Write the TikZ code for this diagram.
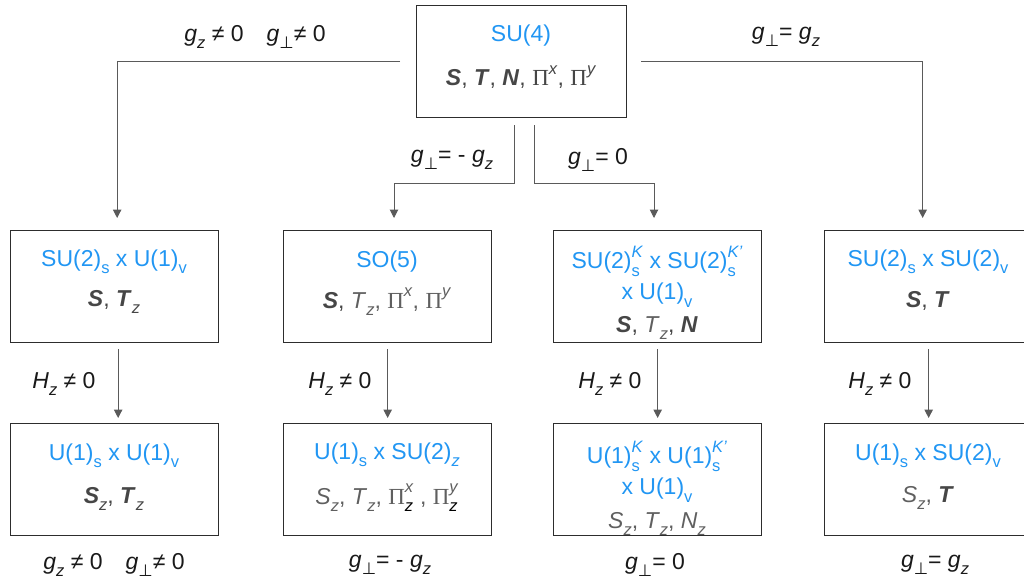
\documentclass[tikz,border=0pt]{standalone}
\usepackage{fontspec}
\setmainfont{Liberation Sans}
\newfontfamily\pifont{Liberation Serif}
\newfontfamily\symfont{DejaVu Sans}
\usetikzlibrary{arrows.meta}

\definecolor{grpblue}{RGB}{33,150,243}
\definecolor{opgray}{RGB}{70,70,70}
\definecolor{oplight}{RGB}{95,95,95}
\definecolor{linegray}{RGB}{90,90,90}
\definecolor{framegray}{RGB}{45,45,45}

% small lowered / raised indices in text
\newcommand\idxfont{\fontsize{16.5}{16.5}\selectfont}
\newcommand\lo[1]{\raisebox{-0.32em}{\idxfont #1}}
\newcommand\hi[1]{\raisebox{0.5em}{\idxfont #1}}
\newdimen\sswd
\newcommand\subsup[2]{%
  \setbox0\hbox{\idxfont #1}\setbox2\hbox{\idxfont #2}%
  \ifdim\wd0>\wd2 \sswd=\wd0 \else \sswd=\wd2 \fi
  \makebox[\sswd][l]{\rlap{\raisebox{0.5em}{\box0}}\raisebox{-0.32em}{\box2}}}
\newcommand\bop[1]{\textbf{\textit{#1}}}
\newcommand\Pop{{\pifont Π}}
\newcommand\gz{\textit{g}\lo{\textit{z}}}
\newcommand\gp{\textit{g}\lo{{\symfont ⊥}}}

\begin{document}
\begin{tikzpicture}[x=1pt,y=-1pt,
  every node/.style={font=\fontsize{23}{27}\selectfont, inner sep=0pt},
  frame/.style={draw=framegray, line width=1.3pt, anchor=north west,
    minimum width=208pt, minimum height=112pt},
  grp/.style={text=grpblue, align=center},
  ops/.style={text=opgray},
  lbl/.style={text=black!90},
  conn/.style={draw=linegray, line width=1pt,
    -{Triangle[width=8.5pt,length=8.5pt]}}]
\useasboundingbox (0,0) rectangle (1024,582);

% ---- boxes ----
\node[frame, minimum width=210pt] (top) at (416,5) {};
\node[frame] (b1) at (10,230) {};
\node[frame] (b2) at (283,230) {};
\node[frame] (b3) at (553,230) {};
\node[frame] (b4) at (824,230) {};
\node[frame] (c1) at (10,423) {};
\node[frame] (c2) at (283,423) {};
\node[frame] (c3) at (553,423) {};
\node[frame] (c4) at (824,423) {};

% ---- box contents ----
\node[grp] (topg) at (521,36) {SU(4)};
\node[ops] (topo) at (521,77) {\bop{S}, \bop{T}, \bop{N}, \Pop\hi{\textit{x}}, \Pop\hi{\textit{y}}};

\node[grp] (b1g) at (114,262) {SU(2)\lo{s} x U(1)\lo{v}};
\node[ops] (b1o) at (114,302) {\bop{S}, \bop{T}\lo{\textit{z}}};

\node[grp] (b2g) at (387,262) {SO(5)};
\node[ops] (b2o) at (387,302) {\bop{S}, \textcolor{oplight}{\textit{T}\lo{\textit{z}}, \Pop\hi{\textit{x}}, \Pop\hi{\textit{y}}}};

\node[grp] (b3g) at (657,261) {SU(2)\subsup{\textit{K}}{s} x SU(2)\subsup{\textit{K'}}{s}};
\node[grp] (b3h) at (657,295) {x U(1)\lo{v}};
\node[ops] (b3o) at (657,328) {\bop{S}, \textcolor{oplight}{\textit{T}\lo{\textit{z}}}, \bop{N}};

\node[grp] (b4g) at (928,262) {SU(2)\lo{s} x SU(2)\lo{v}};
\node[ops] (b4o) at (928,301) {\bop{S}, \bop{T}};

\node[grp] (c1g) at (114,456) {U(1)\lo{s} x U(1)\lo{v}};
\node[ops] (c1o) at (114,499) {\bop{S}\lo{\textit{z}}, \bop{T}\lo{\textit{z}}};

\node[grp] (c2g) at (387,455) {U(1)\lo{s} x SU(2)\lo{\textit{z}}};
\node[text=oplight] (c2o) at (387,498) {\textit{S}\lo{\textit{z}}, \textit{T}\lo{\textit{z}}, \Pop\subsup{\textit{x}}{\textcolor{black}{\textit{z}}} , \Pop\subsup{\textit{y}}{\textcolor{black}{\textit{z}}}};

\node[grp] (c3g) at (657,456) {U(1)\subsup{\textit{K}}{s} x U(1)\subsup{\textit{K'}}{s}};
\node[grp] (c3h) at (657,490) {x U(1)\lo{v}};
\node[text=oplight] (c3o) at (657,524) {\textit{S}\lo{\textit{z}}, \textit{T}\lo{\textit{z}}, \textit{N}\lo{\textit{z}}};

\node[grp] (c4g) at (928,456) {U(1)\lo{s} x SU(2)\lo{v}};
\node[text=oplight] (c4o) at (928,498) {\textit{S}\lo{\textit{z}}, \textcolor{opgray}{\bop{T}}};

% ---- connectors ----
\coordinate (jl) at (394,183);
\coordinate (jr) at (654,183);
\draw[conn, shorten >=12pt] ([xshift=-16pt]top.west) -| ([xshift=2.5pt]b1.north);
\draw[conn, shorten >=12pt] ([xshift=14pt]top.east) -| ([xshift=-6pt]b4.north);
\draw[conn, shorten >=12pt] ([xshift=-7pt,yshift=-7pt]top.south) |- (jl) -- (jl |- b2.north);
\draw[conn, shorten >=12pt] ([xshift=13pt,yshift=-7pt]top.south) |- (jr) -- (jr |- b3.north);

\draw[conn, shorten <=6pt, shorten >=5pt] ([xshift=3.5pt]b1.south) -- ([xshift=3.5pt]c1.north);
\draw[conn, shorten <=6pt, shorten >=5pt] (b2.south) -- (c2.north);
\draw[conn, shorten <=6pt, shorten >=5pt] (b3.south) -- (c3.north);
\draw[conn, shorten <=6pt, shorten >=5pt] (b4.south) -- (c4.north);

% ---- conditions ----
\node[lbl] (l1) at (255,37) {\gz{} ≠ 0\hspace{1em}\gp{}≠ 0};
\node[lbl] (l2) at (786,37) {\gp= \gz};
\node[lbl] (l3) at (452,160) {\gp= - \gz};
\node[lbl] (l4) at (598,160) {\gp= 0};

\node[lbl] (h1) at (64,384) {\textit{H}\lo{\textit{z}} ≠ 0};
\node[lbl] (h2) at (340,384) {\textit{H}\lo{\textit{z}} ≠ 0};
\node[lbl] (h3) at (610,384) {\textit{H}\lo{\textit{z}} ≠ 0};
\node[lbl] (h4) at (880,384) {\textit{H}\lo{\textit{z}} ≠ 0};

\node[lbl] (e1) at (114,565) {\gz{} ≠ 0\hspace{1em}\gp{}≠ 0};
\node[lbl] (e2) at (390,565) {\gp= - \gz};
\node[lbl] (e3) at (655,565) {\gp= 0};
\node[lbl] (e4) at (935,565) {\gp= \gz};
\end{tikzpicture}
\end{document}
